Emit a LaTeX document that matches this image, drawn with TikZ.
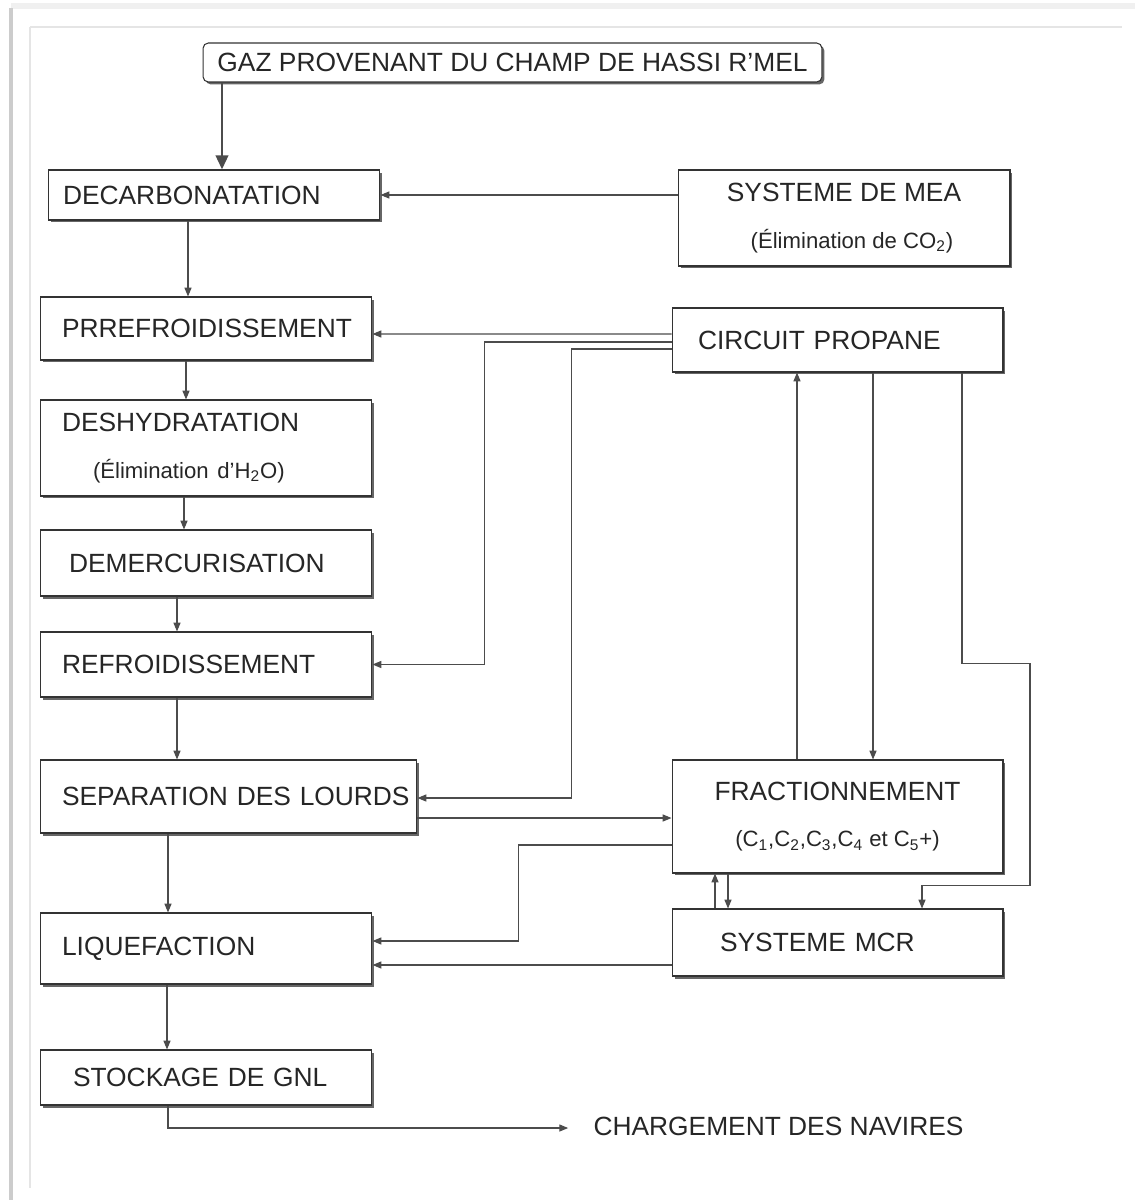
\documentclass[tikz,border=0pt]{standalone}
\usepackage{fontspec}
\setmainfont{Liberation Sans}
\usetikzlibrary{calc, shadows, arrows.meta}

\newcommand{\subtxt}[1]{{\fontsize{12.6}{14}\selectfont #1}}

\begin{document}
\begin{tikzpicture}[x=0.02cm, y=-0.02cm,
    every node/.style={text=black!85, font=\fontsize{15}{17}\selectfont},
    box/.style={draw=black!80, fill=white, line width=0.6pt, drop shadow={shadow xshift=0.05cm, shadow yshift=-0.05cm, fill=black!60, opacity=1}},
    stage/.style={box, minimum width=6.64cm, align=left, inner xsep=0.44cm, text width=5.76cm},
    unit/.style={box, minimum width=6.62cm, align=center},
    flow/.style={draw=black!70, line width=0.6pt, -{Triangle[length=5pt, width=4pt]}},
    feed/.style={draw=black!70, line width=1.6pt, -{Triangle[length=8pt, width=7pt]}}]

                \useasboundingbox (0,0) rectangle (1135,1200);

                % page frame
                \draw[gray!12, line width=3pt] (11,6) -- (1135,6);
                \draw[gray!40, line width=1.8pt] (11,8) -- (11,1200);
                \draw[gray!20, line width=1.5pt] (30,27) -- (1122,27);
                \draw[gray!20, line width=1.5pt] (30,27) -- (30,1188);

                % main line
                \node[box, rounded corners=3pt, minimum width=12.38cm, minimum height=0.78cm] (gaz) at (512.5,62.5) {GAZ PROVENANT DU CHAMP DE HASSI R'MEL};
                \node[stage, inner xsep=0.3cm, text width=6.04cm, minimum height=1.0cm] (decarb) at (214,195) {DECARBONATATION};
                \node[stage, minimum height=1.26cm] (prref) at (206,328.5) {\mbox{PRREFROIDISSEMENT}};
                \node[stage, minimum height=1.92cm] (deshy) at (206,448) {DESHYDRATATION\\[9.5pt]\hspace*{0.62cm}\subtxt{(Élimination d'H\textsubscript{2}O)}};
                \node[stage, inner xsep=0.58cm, text width=5.48cm, minimum height=1.32cm] (demerc) at (206,563) {DEMERCURISATION};
                \node[stage, minimum height=1.3cm] (refroid) at (206,664.5) {REFROIDISSEMENT};
                \node[stage, minimum width=7.54cm, text width=6.66cm, minimum height=1.46cm] (sep) at (228.5,796.5) {\mbox{SEPARATION DES LOURDS}};
                \node[stage, minimum height=1.42cm] (liq) at (206,948.5) {LIQUEFACTION};
                \node[stage, inner xsep=0.66cm, text width=5.32cm, minimum height=1.1cm] (stock) at (206,1077.5) {STOCKAGE DE GNL};
                \node[inner sep=0pt] (charg) at (778.5,1126) {CHARGEMENT DES NAVIRES};

                % utilities
                \node[unit, minimum width=6.64cm, minimum height=1.92cm] (mea) at (844,218) {SYSTEME DE MEA\\[9.5pt]\hspace*{0.32cm}\subtxt{(Élimination de CO\textsubscript{2})}};
                \node[box, align=left, minimum width=6.62cm, text width=5.58cm, inner xsep=0.52cm, minimum height=1.28cm] (circuit) at (837.5,340) {CIRCUIT PROPANE};
                \node[unit, minimum height=2.26cm] (fract) at (837.5,816.5) {FRACTIONNEMENT\\[9.5pt]\subtxt{(C\textsubscript{1},C\textsubscript{2},C\textsubscript{3},C\textsubscript{4} et C\textsubscript{5}+)}};
                \node[box, align=left, minimum width=6.62cm, text width=4.7cm, inner xsep=0.96cm, minimum height=1.34cm] (mcr) at (837.5,942.5) {SYSTEME MCR};

                % gas flow down the train
                \draw[feed] ($ (gaz.south) + (-290.5,0) $) -- ($ (decarb.north) + (8,0) $);
                \draw[flow] ($ (decarb.south) + (-26,0) $) -- ($ (prref.north) + (-18,0) $);
                \draw[flow] ($ (prref.south) + (-20,0) $) -- ($ (deshy.north) + (-20,0) $);
                \draw[flow] ($ (deshy.south) + (-22,0) $) -- ($ (demerc.north) + (-22,0) $);
                \draw[flow] ($ (demerc.south) + (-29,0) $) -- ($ (refroid.north) + (-29,0) $);
                \draw[flow] ($ (refroid.south) + (-29,0) $) -- ($ (sep.north) + (-51.5,0) $);
                \draw[flow] ($ (sep.south) + (-60.5,0) $) -- ($ (liq.north) + (-38,0) $);
                \draw[flow] ($ (liq.south) + (-39,0) $) -- ($ (stock.north) + (-39,0) $);
                \draw[flow] ($ (stock.south) + (-38,0) $) |- ($ (charg.west) + (-25,2) $);

                % MEA
                \draw[flow] (decarb.east -| mea.west) -- (decarb.east);

                % propane circuit
                \draw[flow] ($ (circuit.west) + (0,-6) $) -- ($ (prref.east) + (0,5.5) $);
                \draw[flow] ($ (circuit.west) + (0,2) $) -- ++(-187,0) |- (refroid.east);
                \draw[flow] ($ (circuit.west) + (0,9) $) -- ++(-100,0) |- ($ (sep.east) + (0,1.5) $);
                \draw[flow] ($ (fract.north) + (-40.5,0) $) -- ($ (circuit.south) + (-40.5,0) $);
                \draw[flow] ($ (circuit.south) + (35.5,0) $) -- ($ (fract.north) + (35.5,0) $);
                \draw[flow] ($ (circuit.south) + (124.5,0) $) -- ++(0,291) -- ++(68,0) -- ++(0,222) -| ($ (mcr.north) + (84.5,0) $);

                % fractionation and MCR
                \draw[flow] ($ (sep.east) + (0,21.5) $) -- ($ (fract.west) + (0,1.5) $);
                \draw[flow] ($ (fract.west) + (0,28.5) $) -- ++(-153,0) |- ($ (liq.east) + (0,-7.5) $);
                \draw[flow] ($ (mcr.west) + (0,22.5) $) -- ($ (liq.east) + (0,16.5) $);
                \draw[flow] ($ (mcr.north) + (-122.5,0) $) -- ($ (fract.south) + (-122.5,0) $);
                \draw[flow] ($ (fract.south) + (-109.5,0) $) -- ($ (mcr.north) + (-109.5,0) $);

\end{tikzpicture}
\end{document}
